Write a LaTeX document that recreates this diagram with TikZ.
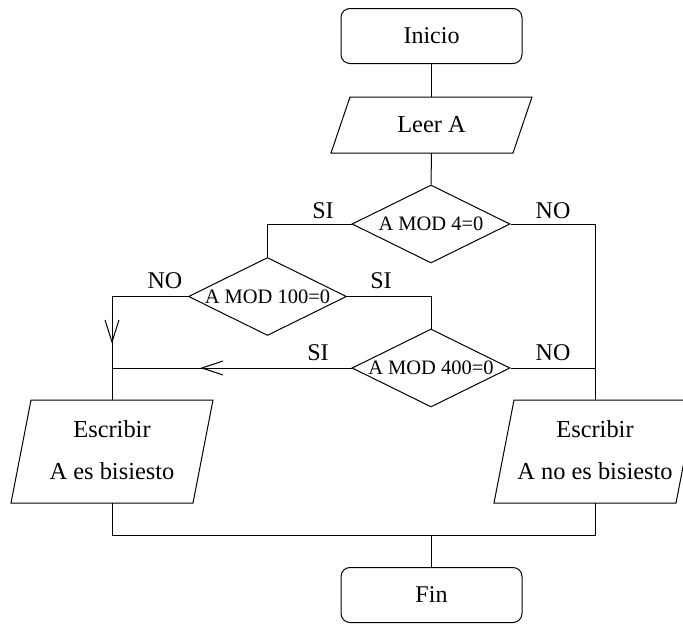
\documentclass[tikz,border=0pt]{standalone}
\usepackage{fontspec}
\setmainfont{Liberation Serif}
\newfontfamily\tms{Liberation Serif}
\usetikzlibrary{shapes.geometric}
\begin{document}
\begin{tikzpicture}[x=1pt,y=-1pt,line width=1pt,
  term/.style={draw,rectangle,rounded corners=9pt,minimum width=181pt,minimum height=55pt,inner sep=0pt,font=\tms\fontsize{24}{28}\selectfont},
  txt/.style={inner sep=0pt,align=center,font=\tms\fontsize{24.4}{42}\selectfont},
  deci/.style={draw,diamond,aspect=2,minimum width=158pt,minimum height=78pt,inner sep=0pt,font=\tms\fontsize{20.5}{24}\selectfont},
  lbl/.style={inner sep=0pt,font=\tms\fontsize{24}{28}\selectfont}]
\useasboundingbox (0,0) rectangle (683,624);
% terminals
\node[term] (ini) at (431.5,36) {Inicio};
\node[term] (fin) at (431.5,595) {Fin};
% Leer A parallelogram
\node[txt] (leer) at (431.5,125) {Leer A};
\draw ([shift={(-81.5,-28)}]leer.center) -- ([shift={(100.5,-28)}]leer.center)
  -- ([shift={(81.5,28)}]leer.center) -- ([shift={(-100.5,28)}]leer.center) -- cycle;
\coordinate (leerT) at ([shift={(0,-28)}]leer.center);
\coordinate (leerB) at ([shift={(0,28)}]leer.center);
% decisions
\node[deci] (d1) at (431,224) {A MOD 4=0};
\node[deci] (d2) at (267.5,296.5) {A MOD 100=0};
\node[deci] (d3) at (431,368) {A MOD 400=0};
% output boxes
\node[txt] (lb) at (112,450) {Escribir\\A es bisiesto};
\draw ([shift={(-81,-50)}]lb.center) -- ([shift={(101,-50)}]lb.center)
  -- ([shift={(81,53)}]lb.center) -- ([shift={(-101,53)}]lb.center) -- cycle;
\coordinate (lbT) at ([shift={(0,-50)}]lb.center);
\coordinate (lbB) at ([shift={(0,53)}]lb.center);
\node[txt] (rb) at (595,450) {Escribir\\A no es bisiesto};
\draw ([shift={(-81,-50)}]rb.center) -- ([shift={(101,-50)}]rb.center)
  -- ([shift={(81,53)}]rb.center) -- ([shift={(-101,53)}]rb.center) -- cycle;
\coordinate (rbT) at ([shift={(0,-50)}]rb.center);
\coordinate (rbB) at ([shift={(0,53)}]rb.center);
% connectors
\draw (ini.south) -- (leerT);
\draw (leerB) -- (d1.north);
\draw (d1.west) -| (d2.north);
\draw (d1.east) -| (rbT);
\draw (d2.west) -| (lbT);
\draw (d2.east) -| (d3.north);
\draw (d3.west) -- (d3.west -| lbT);
\draw (d3.east) -- (d3.east -| rbT);
\coordinate (bj) at (lbB |- 0,535);
\coordinate (bj2) at (rbB |- 0,535);
\draw (lbB) -- (bj) -- (bj2) -- (rbB);
\draw (fin.north |- bj) -- (fin.north);
% open arrow heads
\coordinate (ta) at (lbT |- 0,342);
\draw (ta) ++(-7,-22) -- (ta) -- ++(7,-22);
\coordinate (tb) at (202,368);
\draw (tb) ++(21,-7) -- (tb) -- ++(21,7);
% labels
\node[lbl] (s1) at (323,211) {SI};
\node[lbl] (n1) at (553,211) {NO};
\node[lbl] (n2) at (165,281) {NO};
\node[lbl] (s2) at (381,281) {SI};
\node[lbl] (s3) at (318,353) {SI};
\node[lbl] (n3) at (553,353) {NO};
\end{tikzpicture}
\end{document}
